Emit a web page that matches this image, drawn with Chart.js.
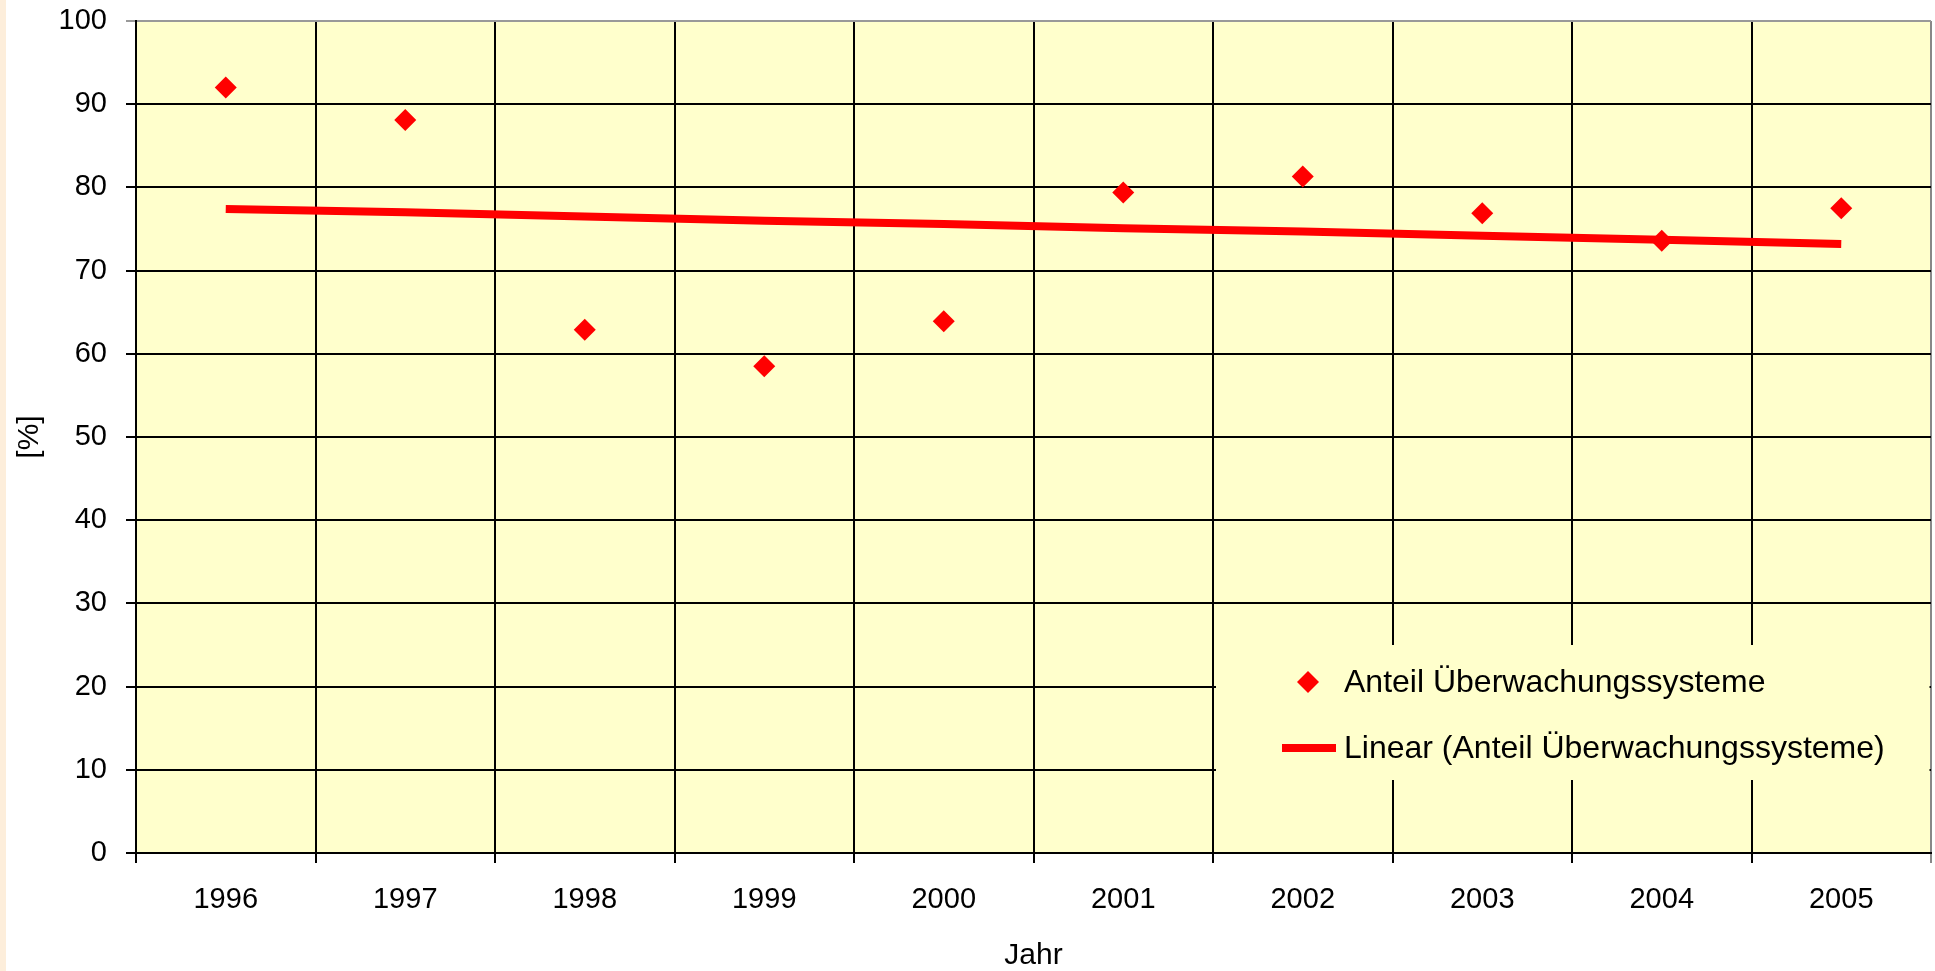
<!DOCTYPE html>
<html><head><meta charset="utf-8">
<script src="https://cdn.jsdelivr.net/npm/chart.js@4"></script>
<style>
html,body{margin:0;padding:0;overflow:hidden;background:#fff;}
#wrap{position:relative;width:1935px;height:971px;background:linear-gradient(to right,#fdeedb 0,#fdeedb 6px,#fff 6px);}
canvas{position:absolute;left:0;top:0;}
</style></head><body>
<div id="wrap"><canvas id="c" width="1935" height="971"></canvas></div>
<script>
const categories = ['1996','1997','1998','1999','2000','2001','2002','2003','2004','2005'];
const anteil = [92.0, 88.1, 62.9, 58.5, 63.9, 79.4, 81.3, 76.9, 73.6, 77.5];
const trend = [77.4, 77.0, 76.5, 76.0, 75.6, 75.1, 74.7, 74.2, 73.7, 73.2];
const seriesLabels = ['Anteil Überwachungssysteme', 'Linear (Anteil Überwachungssysteme)'];
const xTitle = 'Jahr';
const yTitle = '[%]';

const FONT = 'Liberation Sans, Arial, sans-serif';
const RED = '#FF0000';

const bgPlugin = {
  id: 'bg',
  beforeDraw(chart) {
    const {ctx, chartArea: a} = chart;
    ctx.save();
    ctx.fillStyle = '#FFFFCC';
    ctx.fillRect(a.left, a.top, a.right - a.left, a.bottom - a.top);
    ctx.restore();
  }
};

const legendPlugin = {
  id: 'boxLegend',
  beforeDatasetsDraw(chart) {
    const {ctx, chartArea: a} = chart;
    const left = a.right - 715, top = a.top + 624, bottom = a.top + 759;
    ctx.save();
    ctx.fillStyle = '#FFFFCC';
    ctx.fillRect(left, top, a.right - 1.5 - left, bottom - top);
    const ds = chart.data.datasets;
    const rows = [top + 37, top + 103];
    ctx.font = '32px ' + FONT;
    ctx.textBaseline = 'middle';
    ctx.textAlign = 'left';
    ds.forEach((d, i) => {
      const y = rows[i];
      ctx.fillStyle = RED;
      if (d.showLine === false) {
        const cx = left + 92, r = 11;
        ctx.beginPath();
        ctx.moveTo(cx - r, y); ctx.lineTo(cx, y - r);
        ctx.lineTo(cx + r, y); ctx.lineTo(cx, y + r);
        ctx.closePath(); ctx.fill();
      } else {
        ctx.fillRect(left + 66, y - 4, 54, 8);
      }
      ctx.fillStyle = '#000';
      ctx.fillText(d.label, left + 128, y + 1);
    });
    ctx.restore();
  }
};

new Chart(document.getElementById('c'), {
  type: 'line',
  data: {
    labels: categories,
    datasets: [
      {
        label: seriesLabels[0],
        data: anteil,
        showLine: false,
        pointStyle: 'rectRot',
        pointRadius: 11,
        pointHoverRadius: 11,
        pointBackgroundColor: RED,
        pointBorderWidth: 0,
        borderColor: RED,
        backgroundColor: RED
      },
      {
        label: seriesLabels[1],
        data: trend,
        borderColor: RED,
        borderWidth: 8,
        pointRadius: 0,
        tension: 0,
        fill: false
      }
    ]
  },
  options: {
    responsive: false,
    animation: false,
    layout: {autoPadding: false, padding: {left: 0, right: 4, top: 21, bottom: 0}},
    plugins: {legend: {display: false}, tooltip: {enabled: false}},
    scales: {
      x: {
        type: 'category',
        offset: true,
        grid: {
          offset: true,
          color: (c) => c.type === 'tick' ? '#000' : '#888',
          lineWidth: 2,
          tickLength: 10,
          drawTicks: true
        },
        border: {color: '#000', width: 2},
        ticks: {font: {family: FONT, size: 29}, color: '#000', padding: 20, maxRotation: 0, autoSkip: false},
        title: {display: true, text: xTitle, color: '#000', font: {family: FONT, size: 30, lineHeight: 1}, padding: {top: 0, bottom: 0}},
        afterFit(s) { s.height = 118; s.paddingLeft = 0; s.paddingRight = 0; }
      },
      y: {
        min: 0, max: 100,
        grid: {
          color: (c) => (c.tick && c.tick.value === 100) ? '#999' : '#000',
          lineWidth: 2,
          tickLength: 10,
          drawTicks: true
        },
        border: {color: '#000', width: 2},
        ticks: {stepSize: 10, font: {family: FONT, size: 29}, color: '#000', padding: 19},
        title: {display: true, text: yTitle, color: '#000', font: {family: FONT, size: 30, lineHeight: 1}, padding: {top: 15, bottom: 0}},
        afterFit(s) { s.width = 136; s.paddingTop = 0; s.paddingBottom = 0; }
      }
    }
  },
  plugins: [bgPlugin, legendPlugin]
});
</script>
</body></html>
